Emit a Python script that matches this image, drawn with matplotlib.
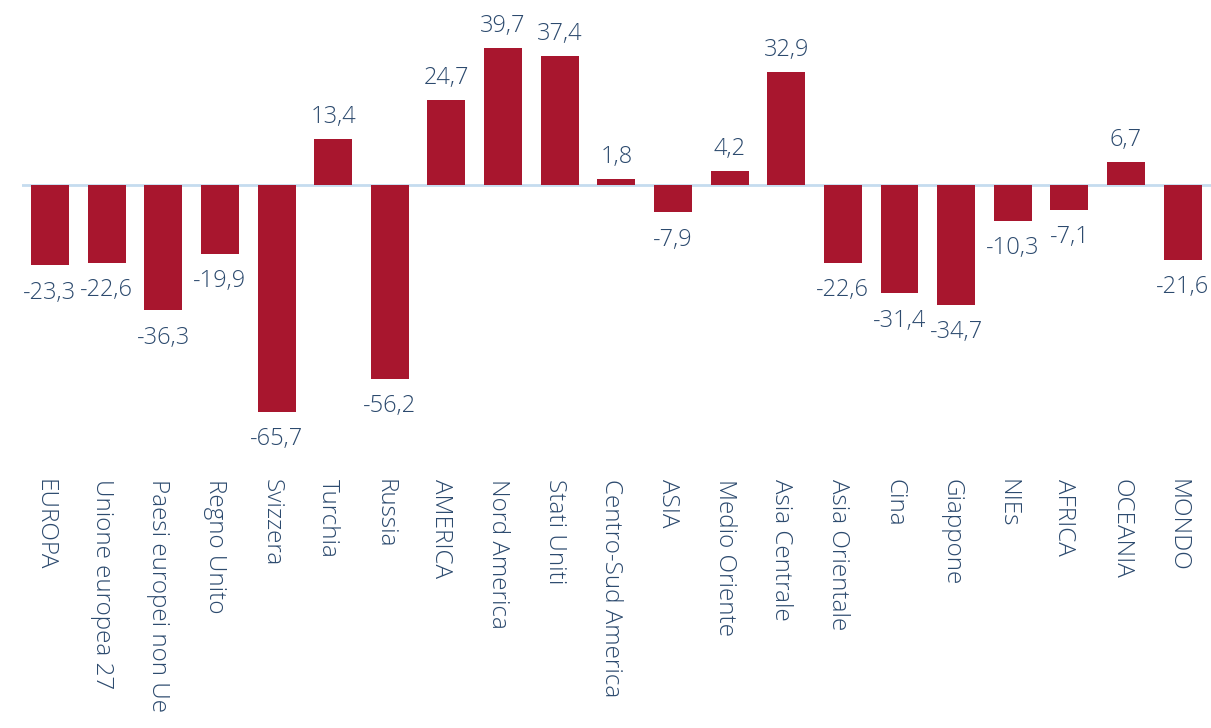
import matplotlib
matplotlib.use("Agg")
import matplotlib.pyplot as plt
from matplotlib.transforms import ScaledTranslation

# data
categories = ["EUROPA", "Unione europea 27", "Paesi europei non Ue", "Regno Unito",
              "Svizzera", "Turchia", "Russia", "AMERICA", "Nord America",
              "Stati Uniti", "Centro-Sud America", "ASIA", "Medio Oriente",
              "Asia Centrale", "Asia Orientale", "Cina", "Giappone", "NIEs",
              "AFRICA", "OCEANIA", "MONDO"]
values = [-23.3, -22.6, -36.3, -19.9, -65.7, 13.4, -56.2, 24.7, 39.7, 37.4,
          1.8, -7.9, 4.2, 32.9, -22.6, -31.4, -34.7, -10.3, -7.1, 6.7, -21.6]

BAR = "#A8162E"
TXT = "#2C4A6E"
AXIS = "#C5DCEF"

plt.rcParams['font.family'] = ['Open Sans', 'DejaVu Sans']

fig = plt.figure(figsize=(12.11, 7.28), dpi=100)
ax = fig.add_axes([0.0179, 0.4141, 0.9821, 0.545])

x = range(len(categories))
ax.bar(x, values, width=0.67, color=BAR, zorder=2)
ax.axhline(0, color=AXIS, lw=2, zorder=1)

for i, v in zip(x, values):
    lab = f"{v:.1f}".replace(".", ",")
    if v >= 0:
        ax.annotate(lab, (i, v), xytext=(0, 7), textcoords="offset points",
                    ha="center", va="bottom", fontsize=17, color=TXT,
                    fontweight=300)
    else:
        ax.annotate(lab, (i, v), xytext=(0, -11), textcoords="offset points",
                    ha="center", va="top", fontsize=17, color=TXT,
                    fontweight=300)

ax.set_xlim(-0.5, len(categories) - 0.5)
ax.set_ylim(-70, 45)
ax.set_xticks(list(x))
ax.set_xticklabels(categories, rotation=-90, fontsize=17.5, color=TXT,
                   fontweight=300)
ax.tick_params(axis="x", length=0, pad=38)
shift = ScaledTranslation(-5 / 100, 0, fig.dpi_scale_trans)
for t in ax.get_xticklabels():
    t.set_transform(t.get_transform() + shift)
ax.set_yticks([])
for s in ax.spines.values():
    s.set_visible(False)

fig.savefig("out.png", dpi=100)
